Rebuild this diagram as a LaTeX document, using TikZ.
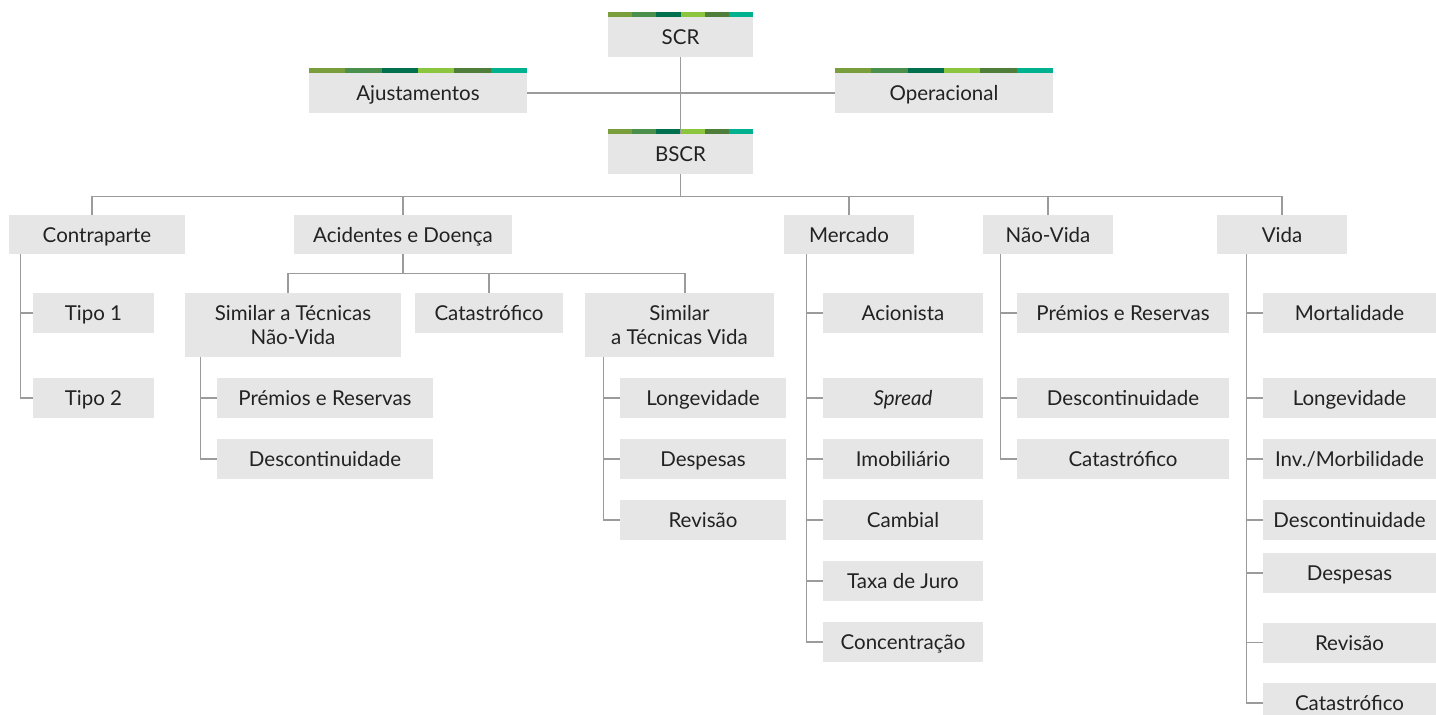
\documentclass[tikz,border=0pt]{standalone}
\usepackage{fontspec}
\setmainfont{Lato}
\usetikzlibrary{calc}
\definecolor{boxgray}{HTML}{E6E6E6}
\definecolor{linegray}{HTML}{9B9B9B}
\definecolor{txtgray}{HTML}{222222}
\definecolor{barA}{HTML}{7A9E3B}
\definecolor{barB}{HTML}{4B8F4C}
\definecolor{barC}{HTML}{00704F}
\definecolor{barD}{HTML}{8CC63F}
\definecolor{barE}{HTML}{4F7D3A}
\definecolor{barF}{HTML}{00B18F}
\tikzset{
  basebox/.style={fill=boxgray, text=txtgray, inner sep=0pt, align=center, font=\fontsize{20.5}{23.5}\selectfont},
  box/.style={basebox, minimum height=40pt, text height=15pt, text depth=0pt},
  twoline/.style={basebox, minimum height=64pt},
  link/.style={draw=linegray, line width=1.3pt},
}
\newcommand{\greenbar}[1]{%
  \foreach \c [count=\i from 0] in {barA,barB,barC,barD,barE,barF}
    \fill[\c] ($(#1.north west)!{\i/6}!(#1.north east)$) rectangle ($(#1.north west)!{(\i+1)/6}!(#1.north east)+(0,-5)$);
}
\begin{document}
\begin{tikzpicture}[x=1pt,y=1pt,yscale=-1]
\useasboundingbox (0,0) rectangle (1436,715);
\node[box, minimum width=145pt] (scr) at (680.5,37) {SCR};
\node[box, minimum width=218pt] (ajust) at (418,93) {Ajustamentos};
\node[box, minimum width=218pt] (oper) at (944,93) {Operacional};
\node[box, minimum width=145pt] (bscr) at (680.5,154) {BSCR};
\greenbar{scr}
\greenbar{ajust}
\greenbar{oper}
\greenbar{bscr}
\draw[link] (scr.south) -- (bscr.north);
\draw[link] (ajust.east) -- (oper.west);

\node[box, minimum width=176pt, minimum height=39pt] (contra) at (97,234.5) {Contraparte};
\node[box, minimum width=218pt, minimum height=39pt] (acid) at (403,234.5) {Acidentes e Doença};
\node[box, minimum width=130pt, minimum height=39pt] (merc) at (849,234.5) {Mercado};
\node[box, minimum width=130pt, minimum height=39pt] (nvida) at (1048,234.5) {Não-Vida};
\node[box, minimum width=130pt, minimum height=39pt] (vida) at (1282,234.5) {Vida};
\coordinate (bus) at ($(bscr.south)+(0,22)$);
\draw[link] (bscr.south) -- (bus);
\draw[link] ([xshift=-5pt]contra.north) |- (vida.north |- bus) -- (vida.north);
\foreach \n in {acid,merc,nvida}
  \draw[link] (\n.north) -- (\n.north |- bus);

\node[box, minimum width=121pt] (tipoA) at (93.5,313) {Tipo 1};
\node[box, minimum width=121pt] (tipoB) at (93.5,398) {Tipo 2};
\coordinate (ct) at ([xshift=-12pt]tipoA.west);
\draw[link] (ct |- contra.south) |- (tipoB.west);
\draw[link] (ct |- tipoA.west) -- (tipoA.west);

\node[twoline, minimum width=216pt] (simnv) at (293,325) {Similar a Técnicas\\Não-Vida};
\node[box, minimum width=148pt] (acat) at (489,313) {Catastrófico};
\node[twoline, minimum width=189pt] (simv) at (679.5,325) {Similar\\a Técnicas Vida};
\coordinate (abus) at ($(acid.south)+(0,19)$);
\draw[link] (acid.south) -- (abus);
\draw[link] ([xshift=-5pt]simnv.north) |- ([xshift=5.5pt]simv.north |- abus) -- ([xshift=5.5pt]simv.north);
\draw[link] (acat.north) -- (acat.north |- abus);

\node[box, minimum width=216pt] (snvpr) at (325,398) {Prémios e Reservas};
\node[box, minimum width=216pt] (snvdes) at (325,459) {Descontinuidade};
\coordinate (snt) at ([xshift=-16pt]snvpr.west);
\draw[link] (snt |- simnv.south) |- (snvdes.west);
\draw[link] (snt |- snvpr.west) -- (snvpr.west);

\node[box, minimum width=166pt] (svlong) at (703,398) {Longevidade};
\node[box, minimum width=166pt] (svdesp) at (703,459) {Despesas};
\node[box, minimum width=166pt] (svrev) at (703,520) {Revisão};
\coordinate (svt) at ([xshift=-16pt]svlong.west);
\draw[link] (svt |- simv.south) |- (svrev.west);
\foreach \n in {svlong,svdesp}
  \draw[link] (svt |- \n.west) -- (\n.west);

\node[box, minimum width=160pt] (acion) at (903,313) {Acionista};
\node[box, minimum width=160pt] (spread) at (903,398) {\itshape Spread};
\node[box, minimum width=160pt] (imob) at (903,459) {Imobiliário};
\node[box, minimum width=160pt] (camb) at (903,520) {Cambial};
\node[box, minimum width=160pt] (taxa) at (903,581) {Taxa de Juro};
\node[box, minimum width=160pt] (concen) at (903,642) {Concentração};
\coordinate (mt) at ([xshift=-16pt]acion.west);
\draw[link] (mt |- merc.south) |- (concen.west);
\foreach \n in {acion,spread,imob,camb,taxa}
  \draw[link] (mt |- \n.west) -- (\n.west);

\node[box, minimum width=212pt] (nvpr) at (1123,313) {Prémios e Reservas};
\node[box, minimum width=212pt] (nvdes) at (1123,398) {Descontinuidade};
\node[box, minimum width=212pt] (nvcat) at (1123,459) {Catastrófico};
\coordinate (nt) at ([xshift=-16pt]nvpr.west);
\draw[link] (nt |- nvida.south) |- (nvcat.west);
\foreach \n in {nvpr,nvdes}
  \draw[link] (nt |- \n.west) -- (\n.west);

\node[box, minimum width=173pt] (vmort) at (1349.5,313) {Mortalidade};
\node[box, minimum width=173pt] (vlong) at (1349.5,398) {Longevidade};
\node[box, minimum width=173pt] (vinv) at (1349.5,459) {Inv./Morbilidade};
\node[box, minimum width=173pt] (vdes) at (1349.5,520) {Descontinuidade};
\node[box, minimum width=173pt] (vdesp) at (1349.5,573) {Despesas};
\node[box, minimum width=173pt] (vrev) at (1349.5,642.5) {Revisão};
\node[box, minimum width=173pt] (vcat) at (1349.5,703) {Catastrófico};
\coordinate (vt) at ([xshift=-16pt]vmort.west);
\draw[link] (vt |- vida.south) |- (vcat.west);
\foreach \n in {vmort,vlong,vinv,vdes,vdesp,vrev}
  \draw[link] (vt |- \n.west) -- (\n.west);
\end{tikzpicture}
\end{document}
